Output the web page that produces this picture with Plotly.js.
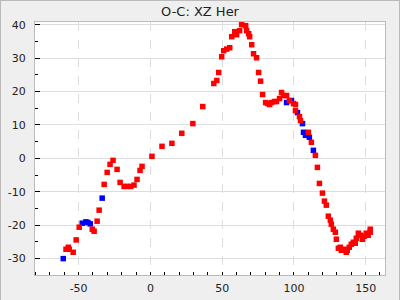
<!DOCTYPE html>
<html>
<head>
<meta charset="utf-8">
<script src="https://cdn.plot.ly/plotly-3.0.1.min.js"></script>
<style>
html,body{margin:0;padding:0;background:#efefef;}
#wrap{position:relative;width:400px;height:300px;}
#chart{width:400px;height:300px;}
#frame{position:absolute;left:0;top:0;width:400px;height:300px;box-sizing:border-box;border:1px solid #bbb;border-bottom:none;pointer-events:none;}
</style>
</head>
<body>
<div id="wrap"><div id="chart"></div><div id="frame"></div></div>
<script>
const chartTitle = "O-C: XZ Her";

const redX = [-58.8,-57.2,-56.5,-53.8,-51.7,-49.6,-40.5,-39.2,-37.1,-35.7,-32.2,-30.1,-28.1,-26.0,-23.2,-21.1,-18.3,-16.0,-13.7,-11.4,-9.3,-7.2,-5.8,1.1,8.1,15.0,21.9,29.6,36.5,44.2,46.3,47.6,49.7,51.1,53.2,55.3,56.7,58.8,60.1,62.2,63.6,66.4,67.1,68.5,69.2,70.6,71.9,74.0,75.4,76.8,78.2,80.3,81.7,83.1,84.4,86.5,87.9,90.0,91.4,92.8,94.9,96.9,99.7,101.1,101.1,103.9,104.6,110.1,112.2,115.0,116.4,117.8,119.9,121.3,122.6,124.0,125.4,126.1,127.5,128.9,129.6,131.0,132.4,133.1,135.1,136.5,137.2,138.6,140.0,141.4,142.8,143.5,144.9,146.3,147.7,149.0,150.4,151.8,153.2,153.2];
const redY = [-27.2,-26.6,-27.2,-28.1,-24.4,-20.6,-21.2,-21.8,-18.8,-15.5,-7.8,-4.2,-1.8,-0.6,-3.3,-7.2,-8.4,-8.4,-8.4,-8.0,-6.3,-3.6,-2.4,0.6,3.6,4.5,7.5,10.4,15.5,22.4,23.3,25.7,30.4,32.2,32.7,33.1,36.4,37.9,37.0,38.2,40.0,39.7,38.2,37.3,36.4,34.0,31.3,30.1,25.7,23.1,19.1,16.7,16.4,16.1,16.7,17.0,17.0,17.9,19.7,18.8,18.8,17.3,16.4,16.1,14.3,12.5,11.3,7.8,4.8,0.9,-2.7,-7.5,-10.4,-12.8,-14.0,-17.3,-18.5,-19.7,-21.2,-22.1,-24.2,-26.9,-26.6,-27.5,-27.2,-28.1,-27.5,-26.6,-25.7,-25.1,-25.4,-23.9,-22.4,-23.0,-24.2,-23.3,-22.4,-23.0,-21.2,-22.1];

const blueX = [-60.7,-47.5,-44.9,-43.5,-41.9,-33.6,94.9,98.3,102.5,106.0,106.7,108.1,110.8,113.6];
const blueY = [-30.0,-19.4,-19.0,-19.2,-19.6,-11.9,16.7,17.3,13.7,10.4,7.8,6.9,6.3,2.4];

const xTicks = [-50, 0, 50, 100, 150];
const yTicks = [-30, -20, -10, 0, 10, 20, 30, 40];

const traces = [
  {x: blueX, y: blueY, type: 'scatter', mode: 'markers',
   marker: {symbol: 'square', size: 5.5, color: '#0000ff', line: {width: 0}}, hoverinfo: 'skip'},
  {x: redX, y: redY, type: 'scatter', mode: 'markers',
   marker: {symbol: 'square', size: 5.5, color: '#ff0000', line: {width: 0}}, hoverinfo: 'skip'}
];

const layout = {
  width: 400, height: 300,
  margin: {l: 35, r: 15, t: 22, b: 25, pad: 0},
  paper_bgcolor: '#efefef',
  plot_bgcolor: '#ffffff',
  showlegend: false,
  font: {family: 'DejaVu Sans', size: 11, color: '#222'},
  title: {text: chartTitle, x: 0.5, xref: 'container', xanchor: 'center', y: 0.963, yanchor: 'middle', yref: 'container',
          font: {family: 'DejaVu Sans', size: 13, color: '#222'}},
  xaxis: {
    range: [-80.4, 163.5], tickvals: xTicks, ticktext: xTicks.map(String),
    showgrid: true, gridcolor: '#dddddd', griddash: 'dash', gridwidth: 1,
    zeroline: false, showline: true, linecolor: '#bbbbbb', linewidth: 1, mirror: true,
    ticks: '', ticklabelstandoff: 3,
    minor: {dtick: 10, tick0: 0, ticks: 'inside', ticklen: 3, tickcolor: '#000', tickwidth: 1, showgrid: false}
  },
  yaxis: {
    range: [-34.9, 40.8], tickvals: yTicks, ticktext: yTicks.map(String),
    showgrid: true, gridcolor: '#dddddd', gridwidth: 1,
    zeroline: false, showline: true, linecolor: '#bbbbbb', linewidth: 1, mirror: true,
    ticks: 'inside', ticklen: 5, tickcolor: '#000', tickwidth: 1, ticklabelstandoff: 6,
    minor: {dtick: 5, tick0: 0, ticks: 'inside', ticklen: 3, tickcolor: '#000', tickwidth: 1, showgrid: false}
  }
};

Plotly.newPlot('chart', traces, layout, {staticPlot: true, displayModeBar: false});
</script>
</body>
</html>
